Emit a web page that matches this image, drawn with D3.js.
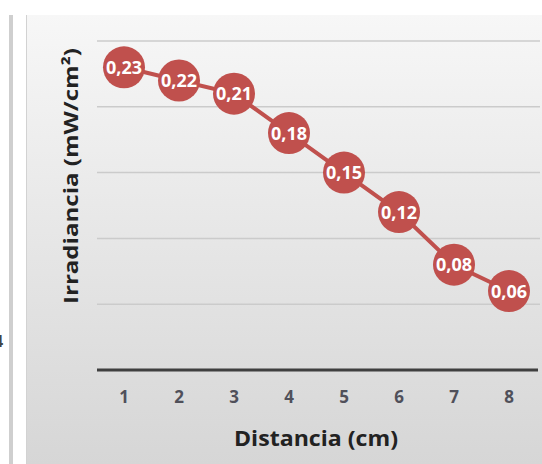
<!DOCTYPE html>
<html>
<head>
<meta charset="utf-8">
<script src="https://cdn.jsdelivr.net/npm/d3@7"></script>
<style>
  html, body { margin: 0; padding: 0; background: #ffffff; }
  svg { display: block; }
  .lbl { font-family: "Open Sans", "DejaVu Sans", sans-serif; font-weight: bold; }
</style>
</head>
<body>
<svg id="chart" width="542" height="464"></svg>
<script>
// Irradiance measured at each distance
const distances = [1, 2, 3, 4, 5, 6, 7, 8];
const irradiance = [0.23, 0.22, 0.21, 0.18, 0.15, 0.12, 0.08, 0.06];
const valueLabels = ["0,23", "0,22", "0,21", "0,18", "0,15", "0,12", "0,08", "0,06"];
const gridValues = [0.05, 0.10, 0.15, 0.20, 0.25];
const xTitle = "Distancia (cm)";
const yTitle = "Irradiancia (mW/cm²)";

const svg = d3.select("#chart");
const W = 542, H = 464;

// Chart area background: soft grey gradient
const defs = svg.append("defs");
const grad = defs.append("linearGradient")
  .attr("id", "bg").attr("x1", 0).attr("y1", 0).attr("x2", 0).attr("y2", 1);
grad.append("stop").attr("offset", "0%").attr("stop-color", "#f7f7f7");
grad.append("stop").attr("offset", "45%").attr("stop-color", "#e8e8e8");
grad.append("stop").attr("offset", "100%").attr("stop-color", "#d6d6d6");

// Frame pieces on the left edge
svg.append("rect").attr("x", 9).attr("y", 15).attr("width", 4).attr("height", H - 15).attr("fill", "#cfcfcf");
svg.append("rect").attr("x", 26).attr("y", 15).attr("width", W - 26).attr("height", H - 15).attr("fill", "url(#bg)");
svg.append("rect").attr("x", 26).attr("y", 15).attr("width", 1).attr("height", H - 15).attr("fill", "#d2d2d2");
svg.append("text").attr("x", -6).attr("y", 347).attr("class", "lbl")
  .attr("font-size", 16).attr("fill", "#444").text("4");

const x = d3.scaleBand().domain(distances).range([96.5, 536.5]);
const y = d3.scaleLinear().domain([0, 0.25]).range([370, 41]);
const cx = d => x(d) + x.bandwidth() / 2;

// Horizontal gridlines
svg.append("g").selectAll("line").data(gridValues).join("line")
  .attr("x1", 97).attr("x2", 540)
  .attr("y1", d => y(d)).attr("y2", d => y(d))
  .attr("stroke", "#cbcbcb").attr("stroke-width", 1.5);

// Category axis
const xAxis = svg.append("g").attr("transform", `translate(0,${y(0)})`)
  .call(d3.axisBottom(x).tickSize(0).tickPadding(21));
xAxis.attr("font-family", null).attr("font-size", null);
xAxis.select(".domain").attr("stroke", "#3f3f3f").attr("stroke-width", 3)
  .attr("d", "M97,0H538");
xAxis.selectAll("text").attr("class", "lbl").attr("font-size", 17).attr("fill", "#50505a");

// Axis titles
svg.append("text").attr("class", "lbl").attr("x", 316).attr("y", 446)
  .attr("text-anchor", "middle").attr("font-size", 21).attr("fill", "#222")
  .attr("textLength", 164).attr("lengthAdjust", "spacingAndGlyphs")
  .text(xTitle);
svg.append("text").attr("class", "lbl")
  .attr("transform", "translate(78,176) rotate(-90)")
  .attr("text-anchor", "middle").attr("font-size", 20).attr("fill", "#222")
  .attr("textLength", 256).attr("lengthAdjust", "spacingAndGlyphs")
  .text(yTitle);

const pts = distances.map((d, i) => ({ d, v: irradiance[i], t: valueLabels[i] }));
const red = "#c0504d";

// Series line and markers
svg.append("path").datum(pts)
  .attr("d", d3.line().x(p => cx(p.d)).y(p => y(p.v)))
  .attr("fill", "none").attr("stroke", red).attr("stroke-width", 4);

svg.append("g").selectAll("circle").data(pts).join("circle")
  .attr("cx", p => cx(p.d)).attr("cy", p => y(p.v)).attr("r", 21)
  .attr("fill", red);

svg.append("g").selectAll("text").data(pts).join("text")
  .attr("class", "lbl")
  .attr("x", p => cx(p.d)).attr("y", p => y(p.v))
  .attr("dy", "0.36em").attr("text-anchor", "middle")
  .attr("font-size", 18).attr("fill", "#ffffff")
  .text(p => p.t);
</script>
</body>
</html>
